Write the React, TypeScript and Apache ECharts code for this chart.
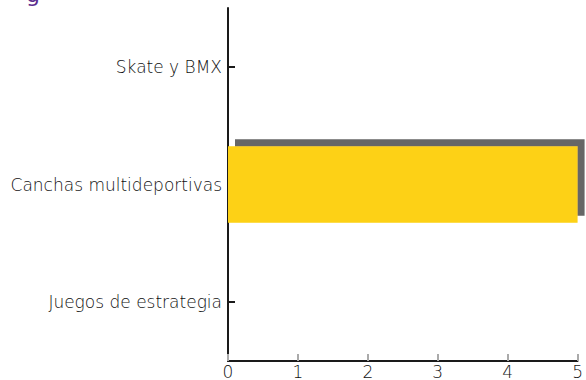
import React, { useEffect, useRef } from "react";
import * as echarts from "echarts";

const categories = ["Juegos de estrategia", "Canchas multideportivas", "Skate y BMX"];
const values = [0, 5, 0];
const xTicks = [0, 1, 2, 3, 4, 5];

const FONT = "DejaVu Sans";

export default function App() {
  const ref = useRef<HTMLDivElement>(null);
  useEffect(() => {
    const chart = echarts.init(ref.current!, null, { renderer: "svg" });
    chart.setOption({
      animation: false,
      graphic: [
        {
          type: "text",
          left: 26,
          top: -17,
          style: { text: "g", fontSize: 22, fill: "#5b2d8e", fontFamily: FONT },
        },
      ],
      grid: { left: 228, right: 5, top: 8, bottom: 19, containLabel: false },
      xAxis: {
        type: "value",
        min: xTicks[0],
        max: xTicks[xTicks.length - 1],
        interval: 1,
        axisLine: { show: true, lineStyle: { color: "#1a1a1a", width: 2 } },
        axisTick: { show: true, inside: true, length: 7, lineStyle: { color: "#aaaaaa", width: 2 } },
        splitLine: { show: false },
        axisLabel: { color: "#111", fontSize: 17, fontFamily: FONT, fontWeight: 200, margin: 2 },
      },
      yAxis: {
        type: "category",
        data: categories,
        axisLine: { show: true, lineStyle: { color: "#1a1a1a", width: 2 } },
        axisTick: { show: true, inside: true, alignWithLabel: true, length: 7, lineStyle: { color: "#1a1a1a", width: 2 } },
        axisLabel: { color: "#111", fontSize: 17, fontFamily: FONT, fontWeight: 200, margin: 6 },
      },
      series: [
        {
          type: "bar",
          data: values,
          barWidth: "65%",
          itemStyle: {
            color: "#fdd116",
            shadowColor: "#666666",
            shadowBlur: 0,
            shadowOffsetX: 7,
            shadowOffsetY: -7,
          },
        },
      ],
    });
    return () => chart.dispose();
  }, []);
  return (
    <div
      ref={ref}
      style={{ position: "absolute", left: 0, top: 0, width: 586, height: 380 }}
    />
  );
}
